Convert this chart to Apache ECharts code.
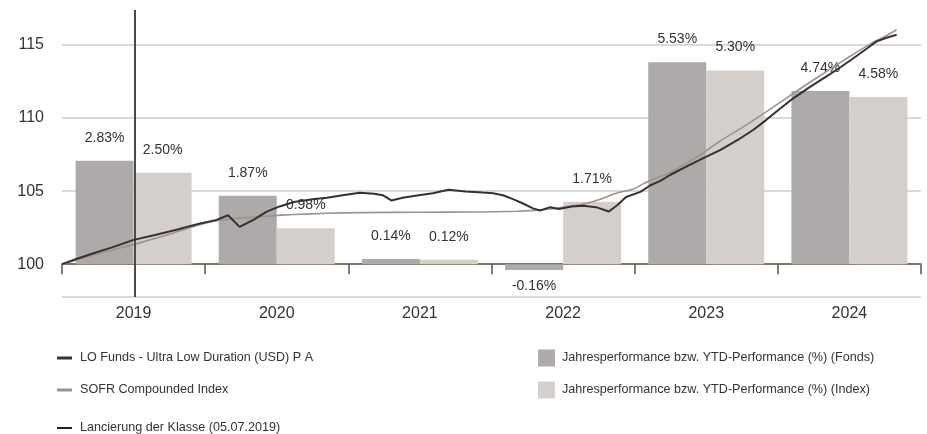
<!DOCTYPE html>
<html>
<head>
<meta charset="utf-8">
<script src="https://cdn.jsdelivr.net/npm/echarts@6/dist/echarts.min.js"></script>
<style>html,body{margin:0;padding:0;background:#fff}#chart{width:927px;height:434px}</style>
</head>
<body>
<div id="chart"></div>
<script>
// ---- data ----
const years = ['2019', '2020', '2021', '2022', '2023', '2024'];
const perfFonds = [2.83, 1.87, 0.14, -0.16, 5.53, 4.74];
const perfIndex = [2.50, 0.98, 0.12, 1.71, 5.30, 4.58];
const yTicks = [100, 105, 110, 115];

const fundName = 'LO Funds - Ultra Low Duration (USD) P A';
const indexName = 'SOFR Compounded Index';
const barFondsName = 'Jahresperformance bzw. YTD-Performance (%) (Fonds)';
const barIndexName = 'Jahresperformance bzw. YTD-Performance (%) (Index)';
const launchName = 'Lancierung der Klasse (05.07.2019)';
const launchDate = 2019 + 186 / 365; // 05.07.2019 as decimal year

// line series: decimal year / rebased value
const fundDates = [2019.00, 2019.10, 2019.22, 2019.35, 2019.50, 2019.65, 2019.80, 2019.95, 2020.08, 2020.16,
  2020.24, 2020.34, 2020.43, 2020.52, 2020.62, 2020.75, 2020.85, 2020.96, 2021.08, 2021.18,
  2021.24, 2021.30, 2021.38, 2021.48, 2021.59, 2021.70, 2021.82, 2021.94, 2022.01, 2022.08,
  2022.15, 2022.22, 2022.29, 2022.34, 2022.41, 2022.47, 2022.56, 2022.64, 2022.73, 2022.82,
  2022.88, 2022.94, 2023.04, 2023.11, 2023.18, 2023.25, 2023.36, 2023.48, 2023.60, 2023.72,
  2023.83, 2023.92, 2024.01, 2024.11, 2024.22, 2024.34, 2024.44, 2024.53, 2024.62, 2024.69,
  2024.76, 2024.83];
const fundValues = [100.00, 100.35, 100.75, 101.15, 101.66, 102.00, 102.35, 102.75, 103.03, 103.35,
  102.55, 103.05, 103.60, 103.95, 104.25, 104.45, 104.55, 104.72, 104.88, 104.82,
  104.72, 104.36, 104.55, 104.70, 104.86, 105.09, 104.98, 104.90, 104.86, 104.72,
  104.45, 104.15, 103.82, 103.67, 103.90, 103.77, 103.95, 103.99, 103.90, 103.60,
  104.05, 104.60, 104.95, 105.40, 105.70, 106.12, 106.68, 107.26, 107.83, 108.50,
  109.20, 109.88, 110.60, 111.37, 112.10, 112.85, 113.50, 114.11, 114.75, 115.25,
  115.50, 115.70];

const indexDates = [2019.00, 2019.25, 2019.51, 2019.75, 2019.96, 2020.10, 2020.24, 2020.45, 2020.62, 2020.85,
  2021.08, 2021.50, 2021.90, 2022.18, 2022.30, 2022.41, 2022.52, 2022.64, 2022.76, 2022.87,
  2022.99, 2023.11, 2023.22, 2023.36, 2023.46, 2023.60, 2023.75, 2023.90, 2024.05, 2024.20,
  2024.35, 2024.50, 2024.65, 2024.75, 2024.83];
const indexValues = [100.00, 100.70, 101.37, 102.05, 102.70, 103.00, 103.15, 103.30, 103.40, 103.48,
  103.53, 103.55, 103.57, 103.62, 103.68, 103.77, 103.92, 104.11, 104.45, 104.86,
  105.15, 105.75, 106.15, 106.90, 107.50, 108.45, 109.35, 110.30, 111.30, 112.30,
  113.25, 114.20, 115.10, 115.60, 116.05];

// ---- presentation ----
const Y_MIN = 97.75, Y_MAX = 117.4;
const BAR_SCALE = 2.5; // 1% performance drawn as 2.5 index points above 100
const FONT = 'Liberation Sans, Arial, sans-serif';
const LEGEND_FONT = 'Liberation Sans, Arial, sans-serif';

const pair = (xs, ys) => xs.map((x, i) => [x, ys[i]]);
const barData = arr => arr.map(v => ({
  value: v,
  label: v < 0 ? { position: 'bottom', distance: 9 } : { position: 'top', distance: 16 }
}));

const chart = echarts.init(document.getElementById('chart'), null, { renderer: 'canvas' });
chart.setOption({
  animation: false,
  backgroundColor: '#fff',
  grid: { left: 62, right: 6, top: 10, bottom: 137, containLabel: false },
  xAxis: [
    {
      type: 'category', data: years, boundaryGap: true,
      axisLine: { lineStyle: { color: '#56553f', width: 1.5 } },
      axisTick: { show: true, length: 10, lineStyle: { color: '#56553f', width: 1.5 } },
      axisLabel: { fontSize: 16, color: '#333', margin: 9, fontFamily: FONT },
      splitLine: { show: false }
    },
    { type: 'value', min: 2019, max: 2025, show: false }
  ],
  yAxis: [
    {
      type: 'value', min: Y_MIN, max: Y_MAX, splitNumber: 4,
      axisLine: { show: false }, axisTick: { show: false },
      axisLabel: { fontSize: 16, color: '#333', margin: 18, fontFamily: FONT,
        formatter: v => (yTicks.indexOf(v) >= 0 ? String(v) : '') },
      splitLine: { show: true, showMaxLine: false, lineStyle: { color: '#cccccc', width: 1.5 } }
    },
    { type: 'value', min: (Y_MIN - 100) / BAR_SCALE, max: (Y_MAX - 100) / BAR_SCALE, show: false }
  ],
  legend: [
    {
      data: [fundName, indexName], orient: 'vertical', left: 57, top: 349, padding: 0,
      icon: 'rect', itemWidth: 15, itemHeight: 3, itemGap: 14,
      textStyle: { fontSize: 12.6, color: '#333', fontFamily: LEGEND_FONT, lineHeight: 18, padding: [0, 0, 0, 3] },
      selectedMode: false
    },
    {
      data: [barFondsName, barIndexName], orient: 'vertical', left: 538, top: 349, padding: 0,
      icon: 'rect', itemWidth: 17, itemHeight: 17, itemGap: 14,
      textStyle: { fontSize: 12.6, color: '#333', fontFamily: LEGEND_FONT, lineHeight: 18, padding: [0, 0, 0, 2] },
      selectedMode: false
    },
    {
      data: [launchName], orient: 'vertical', left: 57, top: 419, padding: 0,
      icon: 'rect', itemWidth: 15, itemHeight: 2,
      textStyle: { fontSize: 12.6, color: '#333', fontFamily: LEGEND_FONT, lineHeight: 18, padding: [0, 0, 0, 3] },
      selectedMode: false
    }
  ],
  series: [
    {
      name: barFondsName, type: 'bar', xAxisIndex: 0, yAxisIndex: 1,
      data: barData(perfFonds), barWidth: 58, barGap: '0%',
      itemStyle: { color: '#aeaaa9' },
      label: { show: true, fontSize: 14, color: '#333', fontFamily: FONT,
        formatter: p => p.value.toFixed(2) + '%' },
      z: 2
    },
    {
      name: barIndexName, type: 'bar', xAxisIndex: 0, yAxisIndex: 1,
      data: barData(perfIndex), barWidth: 58, barGap: '0%',
      itemStyle: { color: '#d4cfcb' },
      label: { show: true, fontSize: 14, color: '#333', fontFamily: FONT,
        formatter: p => p.value.toFixed(2) + '%' },
      z: 2
    },
    {
      name: indexName, type: 'line', xAxisIndex: 1, yAxisIndex: 0,
      data: pair(indexDates, indexValues), showSymbol: false, smooth: 0.2,
      color: '#9d928c', lineStyle: { color: '#9d928c', width: 1.6 }, z: 4
    },
    {
      name: fundName, type: 'line', xAxisIndex: 1, yAxisIndex: 0,
      data: pair(fundDates, fundValues), showSymbol: false,
      color: '#3a2f2f', lineStyle: { color: '#3a2f2f', width: 2 }, z: 5
    },
    {
      name: launchName, type: 'line', xAxisIndex: 1, yAxisIndex: 0, data: [],
      color: '#222', lineStyle: { color: '#222' },
      markLine: {
        silent: true, symbol: ['none', 'none'], label: { show: false },
        lineStyle: { color: '#4a4a4a', width: 2, type: 'solid' },
        data: [{ xAxis: launchDate }]
      },
      z: 6
    }
  ]
});
</script>
</body>
</html>
